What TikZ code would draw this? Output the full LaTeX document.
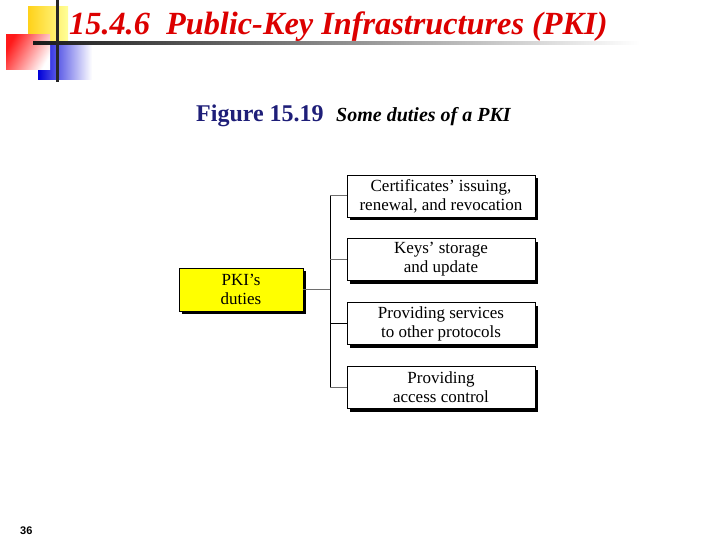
\documentclass[tikz,border=0pt]{standalone}
\usepackage{fontspec}
\setmainfont{Liberation Serif}
\newfontfamily\arialfont{Liberation Sans}
\usetikzlibrary{shadows}
\definecolor{titlered}{RGB}{220,0,0}
\definecolor{capblue}{RGB}{30,30,120}
\definecolor{boxyellow}{RGB}{255,255,0}
\definecolor{linegray}{RGB}{110,110,110}
\tikzset{
  dutybox/.style={draw=black, line width=0.8pt, fill=white, minimum width=188pt, minimum height=42pt,
    align=center, inner sep=0pt, font=\fontsize{17}{19}\selectfont,
    drop shadow={shadow xshift=3pt, shadow yshift=-3pt, opacity=1, fill=black}},
  rootbox/.style={dutybox, fill=boxyellow, minimum width=124pt, minimum height=43pt},
  conn/.style={draw=linegray, line width=1pt},
}
\begin{document}
\begin{tikzpicture}[x=1pt,y=-1pt]
\useasboundingbox (0,0) rectangle (720,540);
% logo
\shade[left color=yellow!60!orange!90, right color=yellow!40!white] (28,7) rectangle (68,43);
\shade[left color=blue!85!black, right color=white] (38,43) rectangle (92,80);
\shade[left color=red!90, right color=white, shading angle=60] (6,35) rectangle (50,70);
\shade[left color=black!90, right color=white] (33,41.5) rectangle (640,45);
\fill[black!85] (56,0) rectangle (58.5,82);
% title
\node[anchor=base west, text=titlered, inner sep=0pt, font=\fontsize{32.3}{36}\selectfont\bfseries\itshape] (title) at (69,35) {15.4.6\ \ Public-Key Infrastructures (PKI)};
% caption
\node[anchor=base west, text=capblue, inner sep=0pt, font=\fontsize{24}{26}\selectfont\bfseries] (fig) at (196,122) {Figure 15.19};
\node[anchor=base west, inner sep=0pt, font=\fontsize{20}{22}\selectfont\bfseries\itshape] (figtitle) at (336,122) {Some duties of a PKI};
% boxes
\node[rootbox] (root) at (241,289.5) {PKI’s\\duties};
\node[dutybox] (b1) at (441,196) {Certificates’ issuing,\\renewal, and revocation};
\node[dutybox] (b2) at (441,259.5) {Keys’ storage\\and update};
\node[dutybox] (b3) at (441,323.5) {Providing services\\to other protocols};
\node[dutybox] (b4) at (441,387.5) {Providing\\access control};
\coordinate (top) at (330,196);
\coordinate (bot) at (330,387.5);
\coordinate (mid) at (330,289.5);
\draw[black, line width=1pt] (top) -- (bot);
\draw[conn] (root.east) -- (mid);
\draw[conn] (top) -- (b1.west);
\draw[conn] (330,259.5) -- (b2.west);
\draw[black, line width=1pt] (330,323.5) -- (b3.west);
\draw[conn] (bot) -- (b4.west);
% page number
\node[anchor=base west, inner sep=0pt, font=\arialfont\fontsize{11}{13}\selectfont\bfseries] (page) at (20,534) {36};
\end{tikzpicture}
\end{document}
